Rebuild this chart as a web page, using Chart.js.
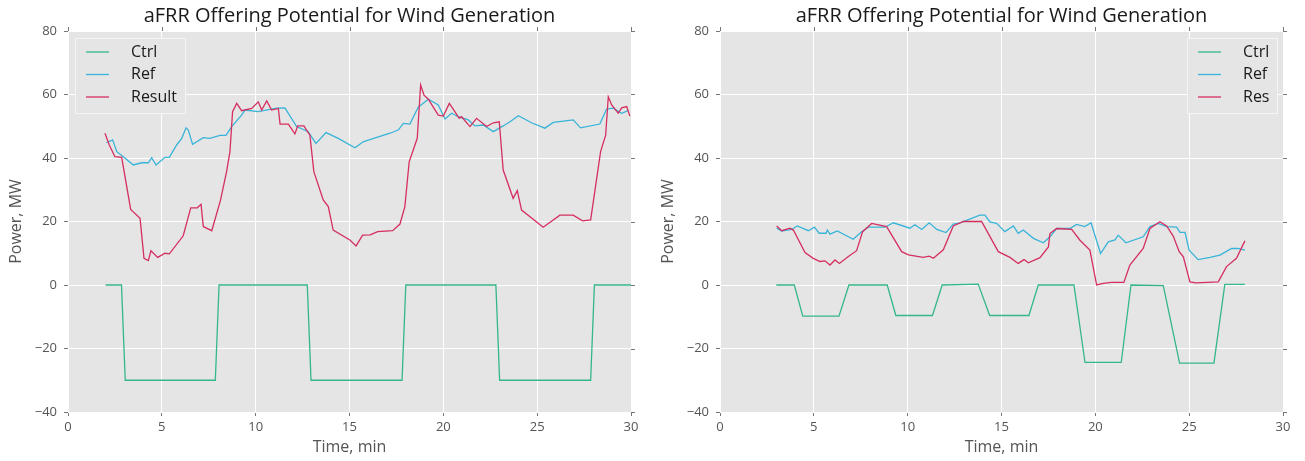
<!DOCTYPE html>
<html><head><meta charset="utf-8">
<script src="https://cdn.jsdelivr.net/npm/chart.js@4.4.1/dist/chart.umd.min.js"></script>
<style>
html,body{margin:0;padding:0;background:#fff;width:1305px;height:461px;overflow:hidden}
.box{position:absolute;top:0;height:461px}
#b1{left:0;width:652px}
#b2{left:652px;width:653px}
</style></head><body>
<div class="box" id="b1"><canvas id="c1" width="652" height="461"></canvas></div>
<div class="box" id="b2"><canvas id="c2" width="653" height="461"></canvas></div>
<script>
// ---------- data ----------
const chartTitle = 'aFRR Offering Potential for Wind Generation';
const xTickVals = [0, 5, 10, 15, 20, 25, 30];
const yTickVals = [-40, -20, 0, 20, 40, 60, 80];

// left panel
const leftCtrlT = [2, 2.85, 3.05, 7.85, 8.05, 12.75, 12.95, 17.8, 18.0, 22.8, 23.0, 27.85, 28.05, 30];
const leftCtrlV = [0, 0, -30, -30, 0, 0, -30, -30, 0, 0, -30, -30, 0, 0];
const leftRefT = [2.05, 2.38, 2.6, 2.95, 3.48, 3.93, 4.28, 4.46, 4.69, 5.17, 5.4, 5.79, 6.06, 6.29, 6.41, 6.64, 7.21, 7.56, 8.1, 8.42, 8.72, 9.25, 9.43, 10.14, 11.12, 11.56, 12.18, 12.8, 13.21, 13.75, 14.4, 15.29, 15.73, 16.45, 17.16, 17.6, 17.87, 18.22, 18.66, 19.2, 19.73, 20.09, 20.44, 20.79, 21.33, 21.68, 22.13, 22.66, 23.19, 23.55, 24.0, 24.7, 25.41, 25.86, 26.92, 27.31, 28.34, 28.7, 29.05, 29.5, 29.85];
const leftRefV = [44.8, 45.7, 42, 40.4, 37.8, 38.5, 38.5, 40.1, 37.8, 40.2, 40.2, 44.1, 46.2, 49.5, 48.8, 44.3, 46.4, 46.2, 47.1, 47.1, 49.9, 53.5, 55.1, 54.6, 55.7, 55.8, 49.9, 48.3, 44.6, 48, 46.2, 43.2, 45.1, 46.5, 47.8, 48.8, 50.9, 50.7, 56, 58.5, 56.7, 52.3, 54.1, 53, 52, 50.1, 50.4, 48.3, 50.1, 51.4, 53.3, 51.1, 49.4, 51.2, 52, 49.5, 50.7, 55.4, 55.7, 54.1, 54.9];
const leftResT = [1.97, 2.2, 2.5, 2.86, 3.34, 3.84, 4.05, 4.28, 4.42, 4.78, 5.17, 5.4, 6.14, 6.54, 6.89, 7.09, 7.21, 7.66, 8.13, 8.45, 8.63, 8.77, 8.99, 9.25, 9.79, 10.14, 10.32, 10.59, 10.85, 11.21, 11.3, 11.74, 12.09, 12.24, 12.57, 12.89, 13.1, 13.6, 13.87, 14.13, 15.02, 15.35, 15.7, 16.1, 16.5, 17.3, 17.69, 17.95, 18.18, 18.61, 18.79, 18.97, 19.2, 19.73, 20.0, 20.32, 20.85, 20.97, 21.42, 21.77, 22.31, 22.66, 22.98, 23.19, 23.72, 23.94, 24.17, 25.32, 26.21, 26.92, 27.42, 27.85, 28.38, 28.65, 28.79, 28.97, 29.32, 29.5, 29.77, 29.94];
const leftResV = [47.8, 44.1, 40.4, 40.2, 23.8, 21, 8.4, 7.7, 10.8, 8.7, 10, 9.8, 15.5, 24.3, 24.3, 25.4, 18.4, 17.1, 26.8, 35.7, 42, 54.6, 57.2, 54.9, 55.6, 57.7, 55.1, 58, 55.1, 55.6, 50.7, 50.7, 47.6, 50.1, 50.1, 47.2, 35.7, 26.8, 24.7, 17.3, 14.2, 12.3, 15.7, 15.8, 16.8, 17.1, 19.2, 24.7, 38.8, 46.2, 63, 59.8, 58.5, 53.5, 53.2, 57.2, 52.5, 53, 49.9, 52.5, 49.9, 51.1, 51.4, 36.2, 27.3, 29.7, 23.6, 18.2, 22, 22, 20.2, 20.5, 42, 47.2, 59.3, 56.7, 54.1, 55.8, 56.2, 53.2];

// right panel
const rightCtrlT = [3.0, 3.96, 4.41, 6.34, 6.87, 8.91, 9.37, 11.32, 11.84, 13.76, 14.37, 16.46, 16.96, 18.86, 19.45, 21.38, 21.9, 23.62, 24.49, 26.32, 26.9, 27.97];
const rightCtrlV = [0, 0, -9.8, -9.8, 0, 0, -9.6, -9.6, 0, 0.3, -9.6, -9.6, 0, 0, -24.4, -24.4, 0, -0.2, -24.6, -24.6, 0.2, 0.2];
const rightRefT = [3.02, 3.29, 3.82, 4.12, 4.71, 5.03, 5.29, 5.65, 5.72, 5.86, 6.25, 7.1, 7.55, 7.9, 8.79, 9.24, 10.12, 10.39, 10.75, 11.15, 11.55, 12.04, 12.43, 12.79, 13.85, 14.12, 14.38, 14.74, 15.18, 15.63, 15.89, 16.16, 16.7, 17.23, 17.58, 17.94, 18.65, 19.0, 19.44, 19.77, 20.28, 20.69, 21.05, 21.22, 21.63, 22.55, 22.91, 23.35, 23.8, 24.33, 24.51, 24.78, 25.0, 25.48, 26.11, 26.64, 27.26, 27.61, 27.97];
const rightRefV = [17.9, 17.0, 17.5, 18.6, 17.1, 18.2, 16.3, 16.3, 17.3, 16.0, 17.0, 14.4, 16.8, 18.2, 18.2, 19.6, 17.9, 19.0, 17.5, 19.6, 17.5, 16.5, 19.2, 19.6, 22.0, 22.0, 19.9, 19.4, 16.8, 18.6, 16.3, 17.3, 14.7, 13.3, 15.2, 17.8, 17.8, 19.1, 18.4, 19.6, 9.9, 13.6, 14.2, 15.7, 13.3, 15.2, 18.4, 19.4, 18.4, 18.2, 16.6, 16.6, 11.0, 8.0, 8.7, 9.4, 11.5, 11.5, 11.0];
const rightResT = [3.02, 3.29, 3.73, 3.91, 4.53, 4.97, 5.33, 5.6, 5.86, 6.13, 6.36, 6.84, 7.28, 7.6, 8.08, 8.88, 9.68, 10.04, 10.83, 11.15, 11.37, 11.9, 12.43, 12.97, 13.94, 14.83, 15.45, 15.89, 16.2, 16.43, 17.05, 17.5, 17.58, 17.94, 18.74, 19.18, 19.71, 20.07, 20.42, 20.86, 21.52, 21.84, 22.55, 22.91, 23.44, 23.8, 24.15, 24.47, 24.69, 25.04, 25.36, 26.55, 26.99, 27.52, 27.97];
const rightResV = [18.6, 17.1, 17.9, 17.3, 10.2, 8.4, 7.4, 7.6, 6.3, 7.9, 6.8, 9.0, 10.8, 16.8, 19.4, 18.4, 10.5, 9.5, 8.7, 9.1, 8.4, 11.1, 18.6, 20.0, 20.0, 10.5, 8.7, 6.8, 8.0, 7.0, 8.6, 12.0, 16.2, 17.8, 17.5, 14.1, 11.0, 0.0, 0.5, 0.8, 0.8, 6.3, 11.5, 17.8, 19.9, 18.6, 15.4, 10.5, 8.9, 1.0, 0.7, 1.0, 5.8, 8.4, 13.9];

// ---------- rendering ----------
const FONT = "'Open Sans', 'DejaVu Sans', sans-serif";
const COL_CTRL = '#35b887', COL_REF = '#38b4d8', COL_RES = '#d52f60';
function pts(t, v) { return t.map((x, i) => ({x: x, y: v[i]})); }
function fmt(v) { return v < 0 ? '\u2212' + Math.abs(v) : String(v); }

const framePlugin = {
  id: 'frame',
  beforeDraw(chart) {
    const {ctx, chartArea: a} = chart;
    ctx.save();
    ctx.fillStyle = '#E5E5E5';
    ctx.fillRect(a.left, a.top, a.right - a.left, a.bottom - a.top);
    ctx.restore();
  },
  afterDraw(chart, args, opts) {
    const {ctx, chartArea: a} = chart;
    const xs = chart.scales.x, ys = chart.scales.y;
    ctx.save();
    // mirrored tick marks on right and top
    ctx.strokeStyle = '#777';
    ctx.lineWidth = 1;
    ctx.beginPath();
    ys.ticks.forEach(t => {
      const py = Math.round(ys.getPixelForValue(t.value)) + 0.5;
      ctx.moveTo(a.right, py); ctx.lineTo(a.right + 4, py);
    });
    xs.ticks.forEach(t => {
      const px = Math.round(xs.getPixelForValue(t.value)) + 0.5;
      ctx.moveTo(px, a.top - 4); ctx.lineTo(px, a.top);
    });
    ctx.stroke();
    // legend box
    ctx.font = '16px ' + FONT;
    const ds = chart.data.datasets;
    let tw = 0;
    ds.forEach(d => { tw = Math.max(tw, ctx.measureText(d.label).width); });
    const w = Math.round(56 + tw + 8), h = 75;
    const bx = opts.side === 'left' ? a.left + 7 : a.right - 6 - w;
    const by = a.top + 7;
    ctx.fillStyle = '#E5E5E5';
    ctx.fillRect(bx, by, w, h);
    ctx.strokeStyle = '#f4f4f4';
    ctx.strokeRect(bx + 0.5, by + 0.5, w, h);
    ds.forEach((d, i) => {
      const ry = by + 14 + i * 22.5;
      ctx.strokeStyle = d.borderColor;
      ctx.lineWidth = 1.3;
      ctx.beginPath();
      ctx.moveTo(bx + 11, ry); ctx.lineTo(bx + 34, ry);
      ctx.stroke();
      ctx.fillStyle = '#1a1a1a';
      ctx.textBaseline = 'middle';
      ctx.textAlign = 'left';
      ctx.fillText(d.label, bx + 56, ry);
    });
    ctx.restore();
  }
};

function makeChart(id, side, ctrl, ref, res, labels) {
  const grid = {color: '#ffffff', lineWidth: 1, tickColor: '#777', tickLength: 4, drawTicks: true};
  return new Chart(document.getElementById(id), {
    type: 'line',
    data: {
      datasets: [
        {label: labels[0], data: ctrl, borderColor: COL_CTRL, borderWidth: 1.3, pointRadius: 0, tension: 0, fill: false, order: 3},
        {label: labels[1], data: ref, borderColor: COL_REF, borderWidth: 1.3, pointRadius: 0, tension: 0, fill: false, order: 2},
        {label: labels[2], data: res, borderColor: COL_RES, borderWidth: 1.3, pointRadius: 0, tension: 0, fill: false, order: 1}
      ]
    },
    options: {
      responsive: false,
      devicePixelRatio: 1,
      animation: false,
      layout: {padding: {left: 0, right: side === 'left' ? 21 : 22, top: 0, bottom: 0}},
      plugins: {
        legend: {display: false},
        tooltip: {enabled: false},
        title: {display: true, fullSize: false, text: chartTitle, color: '#1a1a1a', font: {family: FONT, size: 20, weight: 'normal'}, padding: {top: 4, bottom: 3}},
        frame: {side: side}
      },
      scales: {
        x: {
          type: 'linear', min: 0, max: 30,
          afterBuildTicks: s => { s.ticks = xTickVals.map(v => ({value: v})); },
          afterFit: s => { s.height = 49; },
          grid: grid, border: {display: false},
          ticks: {color: '#555', font: {family: FONT, size: 13}, padding: 3, maxRotation: 0, callback: v => fmt(v)},
          title: {display: true, text: 'Time, min', color: '#555', font: {family: FONT, size: 16}, padding: {top: 0, bottom: 4}}
        },
        y: {
          min: -40, max: 80,
          afterBuildTicks: s => { s.ticks = yTickVals.map(v => ({value: v})); },
          afterFit: s => { s.width = 68; },
          grid: grid, border: {display: false},
          ticks: {color: '#555', font: {family: FONT, size: 13}, padding: 7, callback: v => fmt(v)},
          title: {display: true, text: 'Power, MW', color: '#555', font: {family: FONT, size: 16}, padding: {top: 7, bottom: 0}}
        }
      }
    },
    plugins: [framePlugin]
  });
}

makeChart('c1', 'left', pts(leftCtrlT, leftCtrlV), pts(leftRefT, leftRefV), pts(leftResT, leftResV), ['Ctrl', 'Ref', 'Result']);
makeChart('c2', 'right', pts(rightCtrlT, rightCtrlV), pts(rightRefT, rightRefV), pts(rightResT, rightResV), ['Ctrl', 'Ref', 'Res']);
</script>
</body></html>
